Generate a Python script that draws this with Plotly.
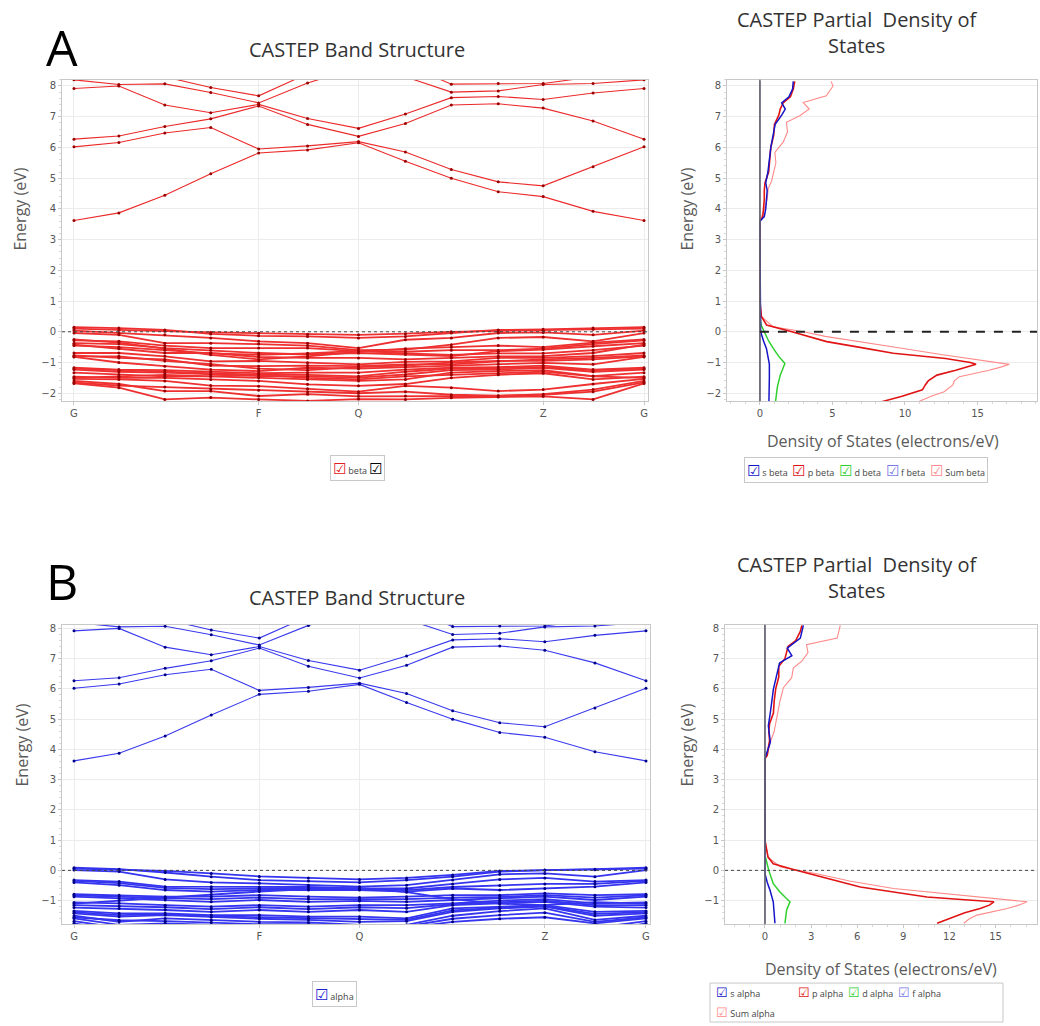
import plotly.graph_objects as go

# ---------------- data ----------------
k_path = [0.0, 0.45, 0.91, 1.37, 1.85, 2.34, 2.85, 3.32, 3.78, 4.25, 4.70, 5.20, 5.71]
k_tick_idx = [0, 4, 6, 10, 12]
k_tick_labels = ["G", "F", "Q", "Z", "G"]

conduction_bands = [
    [3.62, 3.87, 4.44, 5.14, 5.82, 5.92, 6.15, 5.55, 5.00, 4.56, 4.40, 3.92, 3.62],
    [6.02, 6.16, 6.47, 6.65, 5.95, 6.05, 6.19, 5.85, 5.28, 4.88, 4.75, 5.37, 6.02],
    [6.27, 6.37, 6.68, 6.93, 7.35, 6.75, 6.36, 6.78, 7.38, 7.42, 7.28, 6.86, 6.27],
    [7.92, 8.00, 7.38, 7.13, 7.40, 6.94, 6.62, 7.09, 7.62, 7.66, 7.56, 7.77, 7.92],
    [8.20, 8.05, 8.07, 7.79, 7.45, 8.10, 8.60, 8.30, 7.80, 7.84, 8.05, 8.08, 8.20],
    [8.60, 8.40, 8.30, 7.95, 7.68, 8.40, 8.80, 8.70, 8.06, 8.08, 8.08, 8.30, 8.60],
]

beta_valence_bands = [
    [0.15, 0.12, 0.06, -0.07, -0.13, -0.15, -0.20, -0.15, -0.04, 0.06, 0.08, 0.12, 0.15],
    [0.10, 0.05, 0.02, -0.02, -0.05, -0.08, -0.10, -0.06, 0.00, 0.03, 0.05, 0.08, 0.10],
    [0.04, -0.04, -0.10, -0.20, -0.31, -0.37, -0.53, -0.26, -0.20, -0.04, -0.02, -0.10, 0.04],
    [-0.04, -0.10, -0.37, -0.37, -0.40, -0.45, -0.60, -0.58, -0.42, -0.20, -0.17, -0.31, -0.04],
    [-0.25, -0.35, -0.55, -0.75, -0.90, -0.80, -0.65, -0.55, -0.50, -0.45, -0.50, -0.35, -0.25],
    [-0.28, -0.31, -0.45, -0.53, -0.53, -0.53, -0.63, -0.65, -0.60, -0.60, -0.55, -0.40, -0.28],
    [-0.37, -0.40, -0.53, -0.60, -0.69, -0.74, -0.69, -0.74, -0.79, -0.63, -0.58, -0.47, -0.37],
    [-0.42, -0.55, -0.69, -0.69, -0.82, -0.85, -0.85, -0.90, -0.85, -0.80, -0.79, -0.69, -0.42],
    [-0.45, -0.50, -0.60, -0.70, -0.75, -0.70, -0.62, -0.70, -0.75, -0.70, -0.70, -0.60, -0.45],
    [-0.69, -0.69, -0.80, -0.96, -0.95, -1.01, -1.06, -0.98, -0.96, -0.85, -0.85, -0.79, -0.69],
    [-0.77, -0.85, -0.90, -1.10, -1.12, -1.10, -1.12, -1.06, -1.06, -0.96, -0.90, -0.85, -0.77],
    [-0.80, -0.80, -0.95, -1.05, -1.20, -1.25, -1.15, -1.10, -1.00, -0.95, -0.95, -0.90, -0.80],
    [-0.82, -1.00, -1.12, -1.23, -1.28, -1.17, -1.20, -1.15, -1.12, -1.06, -1.01, -1.06, -0.82],
    [-1.17, -1.23, -1.25, -1.30, -1.35, -1.33, -1.33, -1.23, -1.17, -1.15, -1.10, -1.23, -1.17],
    [-1.20, -1.25, -1.30, -1.35, -1.40, -1.40, -1.45, -1.30, -1.20, -1.18, -1.15, -1.25, -1.20],
    [-1.23, -1.30, -1.33, -1.39, -1.44, -1.45, -1.49, -1.39, -1.25, -1.23, -1.17, -1.30, -1.23],
    [-1.33, -1.39, -1.45, -1.45, -1.50, -1.55, -1.60, -1.55, -1.33, -1.28, -1.25, -1.44, -1.33],
    [-1.50, -1.45, -1.40, -1.45, -1.40, -1.50, -1.55, -1.45, -1.40, -1.35, -1.30, -1.45, -1.50],
    [-1.46, -1.50, -1.50, -1.55, -1.60, -1.71, -1.76, -1.70, -1.50, -1.40, -1.35, -1.55, -1.46],
    [-1.53, -1.55, -1.60, -1.75, -1.77, -1.85, -1.95, -1.76, -1.82, -1.93, -1.88, -1.70, -1.53],
    [-1.60, -1.70, -1.93, -1.93, -2.09, -2.03, -2.10, -2.09, -2.09, -2.09, -2.03, -1.88, -1.60],
    [-1.65, -1.75, -1.80, -1.85, -1.90, -1.95, -2.00, -1.95, -2.05, -2.08, -2.05, -1.95, -1.65],
    [-1.68, -1.82, -2.20, -2.14, -2.20, -2.25, -2.19, -2.20, -2.15, -2.12, -2.10, -2.20, -1.68],
    [-2.40, -2.35, -2.30, -2.40, -2.30, -2.35, -2.40, -2.35, -2.30, -2.30, -2.30, -2.40, -2.50],
]

alpha_valence_bands = [
    [0.09, 0.04, -0.07, -0.21, -0.32, -0.35, -0.40, -0.32, -0.21, -0.04, 0.01, 0.04, 0.09],
    [0.06, 0.02, -0.02, -0.10, -0.20, -0.25, -0.30, -0.25, -0.15, -0.02, 0.00, 0.02, 0.06],
    [0.01, -0.04, -0.30, -0.40, -0.43, -0.49, -0.54, -0.49, -0.32, -0.13, -0.10, -0.21, 0.01],
    [-0.32, -0.37, -0.54, -0.54, -0.55, -0.55, -0.60, -0.60, -0.45, -0.30, -0.25, -0.37, -0.32],
    [-0.35, -0.42, -0.58, -0.62, -0.60, -0.58, -0.62, -0.65, -0.55, -0.50, -0.45, -0.45, -0.35],
    [-0.40, -0.49, -0.65, -0.70, -0.65, -0.65, -0.65, -0.70, -0.60, -0.65, -0.60, -0.54, -0.40],
    [-1.10, -1.00, -0.90, -0.80, -0.70, -0.62, -0.58, -0.72, -0.95, -1.10, -1.15, -1.05, -1.10],
    [-0.79, -0.82, -0.87, -0.87, -0.82, -0.87, -0.90, -0.87, -0.82, -0.82, -0.76, -0.82, -0.79],
    [-0.83, -0.88, -0.92, -0.95, -0.90, -0.95, -0.95, -0.95, -0.90, -0.88, -0.82, -0.90, -0.83],
    [-0.87, -0.93, -0.98, -1.04, -0.98, -1.04, -1.01, -1.04, -0.98, -0.93, -0.87, -0.98, -0.87],
    [-1.06, -1.09, -1.15, -1.20, -1.15, -1.20, -1.15, -1.15, -1.09, -1.00, -0.95, -1.09, -1.06],
    [-1.15, -1.18, -1.22, -1.28, -1.22, -1.28, -1.22, -1.25, -1.12, -1.05, -1.00, -1.15, -1.15],
    [-1.23, -1.26, -1.31, -1.37, -1.31, -1.37, -1.31, -1.37, -1.15, -1.09, -1.04, -1.20, -1.23],
    [-1.34, -1.42, -1.42, -1.48, -1.48, -1.53, -1.53, -1.59, -1.26, -1.20, -1.15, -1.37, -1.34],
    [-1.38, -1.48, -1.45, -1.52, -1.55, -1.58, -1.62, -1.64, -1.32, -1.23, -1.18, -1.44, -1.38],
    [-1.42, -1.53, -1.48, -1.55, -1.60, -1.64, -1.70, -1.68, -1.37, -1.26, -1.20, -1.50, -1.42],
    [-1.50, -1.70, -1.59, -1.65, -1.70, -1.72, -1.80, -1.80, -1.50, -1.35, -1.26, -1.64, -1.50],
    [-1.55, -1.65, -1.68, -1.72, -1.78, -1.78, -1.85, -1.85, -1.60, -1.48, -1.40, -1.70, -1.55],
    [-1.59, -1.80, -1.75, -1.80, -1.85, -1.85, -1.90, -1.90, -1.70, -1.60, -1.55, -1.75, -1.59],
    [-1.68, -1.90, -1.90, -1.95, -2.00, -1.95, -2.00, -2.00, -1.90, -1.90, -1.85, -1.90, -1.68],
    [-1.75, -2.00, -2.10, -2.10, -2.10, -2.10, -2.10, -2.10, -2.10, -2.10, -2.00, -2.05, -1.75],
]

fermi_level = 0.0

# --- PDOS beta (panel A) ---
dos_beta_s_E = [8.15, 7.9, 7.65, 7.45, 7.25, 7.05, 6.75, 6.4, 6.0, 5.6, 5.2, 4.85, 4.6, 4.3, 4.0, 3.75, 3.6, 3.0, 1.0, 0.3, 0.0, -0.3, -0.55, -0.8, -1.05, -1.5, -2.0, -2.3]
dos_beta_s = [2.3, 2.25, 2.0, 1.5, 1.75, 1.5, 1.05, 0.9, 0.75, 0.65, 0.55, 0.4, 0.5, 0.45, 0.4, 0.3, 0.0, 0.0, 0.0, 0.0, 0.05, 0.25, 0.45, 0.55, 0.65, 0.65, 0.6, 0.62]
dos_beta_p_E = [8.15, 7.9, 7.65, 7.45, 7.25, 7.05, 6.75, 6.4, 6.0, 5.6, 5.2, 4.85, 4.6, 4.3, 4.0, 3.75, 3.6, 3.0, 1.0, 0.5, 0.22, 0.0, -0.15, -0.32, -0.5, -0.7, -0.87, -1.0, -1.06, -1.15, -1.25, -1.41, -1.6, -1.73, -1.89, -2.1, -2.3]
dos_beta_p = [2.4, 2.3, 2.1, 1.6, 1.4, 1.3, 1.0, 0.95, 0.75, 0.7, 0.6, 0.35, 0.3, 0.3, 0.25, 0.2, 0.0, 0.0, 0.0, 0.1, 0.46, 2.2, 3.3, 4.6, 6.8, 9.2, 12.8, 14.5, 14.9, 14.3, 13.5, 12.2, 11.6, 11.4, 11.2, 9.8, 8.2]
dos_beta_d_E = [0.5, 0.2, 0.0, -0.3, -0.54, -0.8, -1.03, -1.2, -1.41, -1.8, -2.3]
dos_beta_d = [0.0, 0.1, 0.3, 0.6, 0.92, 1.3, 1.72, 1.6, 1.4, 1.2, 1.07]
dos_beta_f_E = [8.15, 3.6, 0.5, -2.3]
dos_beta_f = [0.0, 0.0, 0.0, 0.0]
dos_beta_sum_E = [8.15, 8.0, 7.68, 7.46, 7.25, 7.03, 6.82, 6.5, 6.17, 5.84, 5.5, 5.19, 4.9, 4.66, 4.3, 3.9, 3.7, 3.6, 1.0, 0.5, 0.16, 0.0, -0.15, -0.32, -0.55, -0.75, -0.95, -1.06, -1.15, -1.25, -1.46, -1.6, -1.73, -1.95, -2.1, -2.3]
dos_beta_sum = [4.9, 5.04, 4.58, 2.98, 3.4, 2.75, 1.83, 1.9, 1.6, 1.03, 1.1, 0.92, 0.8, 0.57, 0.5, 0.23, 0.1, 0.0, 0.0, 0.1, 0.92, 3.0, 4.5, 6.9, 10.0, 12.6, 15.5, 17.2, 16.6, 15.8, 13.75, 13.4, 13.3, 12.7, 11.8, 10.8]

# --- PDOS alpha (panel B) ---
dos_alpha_s_E = [8.1, 7.68, 7.35, 7.1, 6.86, 6.31, 5.99, 5.22, 4.78, 4.24, 3.9, 3.7, 1.0, 0.3, -0.11, -0.4, -0.66, -1.04, -1.4, -1.75]
dos_alpha_s = [2.5, 2.3, 1.45, 1.75, 0.95, 0.7, 0.55, 0.35, 0.22, 0.35, 0.1, 0.0, 0.0, 0.0, 0.0, 0.15, 0.33, 0.54, 0.6, 0.65]
dos_alpha_p_E = [8.1, 7.9, 7.6, 7.4, 7.2, 7.0, 6.75, 6.4, 6.0, 5.6, 5.2, 4.85, 4.6, 4.3, 4.0, 3.8, 3.7, 3.0, 1.0, 0.44, 0.22, 0.03, -0.11, -0.3, -0.55, -0.75, -0.88, -0.97, -1.04, -1.15, -1.26, -1.4, -1.53, -1.65, -1.75]
dos_alpha_p = [2.4, 2.3, 2.0, 1.5, 1.4, 1.3, 0.9, 0.9, 0.7, 0.6, 0.55, 0.3, 0.25, 0.3, 0.2, 0.15, 0.0, 0.0, 0.0, 0.2, 0.54, 1.85, 2.93, 4.3, 6.2, 8.8, 10.54, 13.0, 14.9, 14.6, 14.0, 13.0, 12.3, 11.7, 11.2]
dos_alpha_d_E = [0.5, 0.33, 0.0, -0.44, -0.7, -0.88, -1.04, -1.31, -1.75]
dos_alpha_d = [0.0, 0.07, 0.25, 0.54, 0.95, 1.3, 1.63, 1.41, 1.3]
dos_alpha_f_E = [8.1, 3.7, 0.5, -1.75]
dos_alpha_f = [0.0, 0.0, 0.0, 0.0]
dos_alpha_sum_E = [8.1, 7.68, 7.46, 7.2, 6.92, 6.7, 6.37, 6.04, 5.6, 4.95, 4.6, 4.2, 3.9, 3.7, 1.0, 0.44, 0.11, -0.11, -0.35, -0.6, -0.88, -0.97, -1.04, -1.15, -1.26, -1.48, -1.6, -1.75]
dos_alpha_sum = [4.9, 4.7, 2.7, 2.8, 2.4, 1.85, 1.74, 1.2, 0.98, 0.76, 0.6, 0.33, 0.2, 0.0, 0.0, 0.2, 1.0, 3.37, 5.5, 8.37, 13.8, 16.0, 17.06, 16.5, 15.76, 13.8, 13.3, 12.94]

# ---------------- styling ----------------
W, H = 1040, 1026
def px(x):
    return x / W
def py(y):
    return 1 - y / H

C_S, C_P, C_D, C_F, C_SUM = "#1414c8", "#e01414", "#2ed02e", "#7a7ae6", "#ff8a8a"
GRID = "#ececec"
AX = "#c8c8c8"
TICKC = "#555555"
FONT = "Open Sans"

fig = go.Figure()

def add_bands(bands, xa, ya, line_c, dot_c, w):
    for b in bands:
        fig.add_trace(go.Scatter(
            x=k_path, y=b, mode="lines+markers", xaxis=xa, yaxis=ya,
            line=dict(color=line_c, width=w), marker=dict(color=dot_c, size=3),
            showlegend=False, hoverinfo="skip"))

add_bands(conduction_bands, "x", "y", "#ec2a2a", "#9a0000", 1.1)
add_bands(beta_valence_bands, "x", "y", "#ee3030", "#9a0000", 1.8)
add_bands(conduction_bands, "x3", "y3", "#3a3aee", "#00008a", 1.1)
add_bands(alpha_valence_bands, "x3", "y3", "#3535f0", "#00008a", 1.8)

def add_dos(xa, ya, series):
    for (E, d, c, w, name) in series:
        fig.add_trace(go.Scatter(x=d, y=E, mode="lines", xaxis=xa, yaxis=ya, name=name,
                                 line=dict(color=c, width=w), showlegend=False, hoverinfo="skip"))

add_dos("x2", "y2", [
    (dos_beta_sum_E, dos_beta_sum, C_SUM, 1.1, "Sum beta"),
    (dos_beta_d_E, dos_beta_d, C_D, 1.5, "d beta"),
    (dos_beta_f_E, dos_beta_f, C_F, 1.3, "f beta"),
    (dos_beta_p_E, dos_beta_p, C_P, 1.6, "p beta"),
    (dos_beta_s_E, dos_beta_s, C_S, 1.5, "s beta"),
])
add_dos("x4", "y4", [
    (dos_alpha_sum_E, dos_alpha_sum, C_SUM, 1.1, "Sum alpha"),
    (dos_alpha_d_E, dos_alpha_d, C_D, 1.5, "d alpha"),
    (dos_alpha_f_E, dos_alpha_f, C_F, 1.3, "f alpha"),
    (dos_alpha_p_E, dos_alpha_p, C_P, 1.6, "p alpha"),
    (dos_alpha_s_E, dos_alpha_s, C_S, 1.5, "s alpha"),
])

k_tickvals = [k_path[i] for i in k_tick_idx]
k_range = [-0.12, 5.75]
dosA_range = [-2.27, 19.1]
dosB_range = [-2.6, 17.7]
yA_range = [-2.26, 8.2]
yB_range = [-1.78, 8.12]

tickfont = dict(family="DejaVu Sans", size=10, color=TICKC)
common_axis = dict(showline=True, linecolor=AX, linewidth=1, mirror=True, zeroline=False,
                   tickfont=tickfont, ticks="outside", ticklen=3, tickcolor=AX)
yminor = dict(ticks="outside", ticklen=2, tickcolor="#d8d8d8", dtick=0.2, showgrid=False)

fig.update_layout(
    width=W, height=H, margin=dict(l=0, r=0, t=0, b=0),
    paper_bgcolor="white", plot_bgcolor="white", showlegend=False,
    font=dict(family=FONT, color="#333333"),
    xaxis=dict(domain=[px(62), px(648)], range=k_range, tickvals=k_tickvals, ticktext=k_tick_labels,
               showgrid=True, gridcolor=GRID, anchor="y", **common_axis),
    yaxis=dict(domain=[py(400), py(78)], range=yA_range, dtick=1, showgrid=True, gridcolor=GRID,
               anchor="x", minor=yminor, **common_axis),
    xaxis2=dict(domain=[px(727), px(1037)], range=dosA_range, dtick=5, tick0=0, showgrid=False,
                anchor="y2", minor=dict(ticks="outside", ticklen=2, tickcolor="#d8d8d8", dtick=1), **common_axis),
    yaxis2=dict(domain=[py(400), py(78)], range=yA_range, dtick=1, showgrid=True, gridcolor=GRID,
                anchor="x2", minor=yminor, **common_axis),
    xaxis3=dict(domain=[px(62), px(650)], range=k_range, tickvals=k_tickvals, ticktext=k_tick_labels,
                showgrid=True, gridcolor=GRID, anchor="y3", **common_axis),
    yaxis3=dict(domain=[py(924), py(624)], range=yB_range, dtick=1, showgrid=True, gridcolor=GRID,
                anchor="x3", minor=yminor, **common_axis),
    xaxis4=dict(domain=[px(725), px(1037)], range=dosB_range, dtick=3, tick0=0, showgrid=False,
                anchor="y4", minor=dict(ticks="outside", ticklen=2, tickcolor="#d8d8d8", dtick=1), **common_axis),
    yaxis4=dict(domain=[py(924), py(624)], range=yB_range, dtick=1, showgrid=True, gridcolor=GRID,
                anchor="x4", minor=yminor, **common_axis),
)

shapes = []
# Fermi level lines in band structures
for xr, yr in (("x domain", "y"), ("x3 domain", "y3")):
    shapes.append(dict(type="line", xref=xr, yref=yr, x0=0, x1=1, y0=fermi_level, y1=fermi_level,
                       line=dict(color="#444444", width=1, dash="dot"), layer="above"))
# DOS zero axis lines (drawn above the curves, like the original)
for xr, yr in (("x2", "y2 domain"), ("x4", "y4 domain")):
    shapes.append(dict(type="line", xref=xr, yref=yr, x0=0, x1=0, y0=0, y1=1,
                       line=dict(color="#6a6a6a", width=1.6), layer="above"))
shapes.append(dict(type="line", xref="x2", yref="y2", x0=0, x1=dosA_range[1], y0=fermi_level, y1=fermi_level,
                   line=dict(color="#222222", width=2, dash="dash"), layer="above"))
shapes.append(dict(type="line", xref="x4 domain", yref="y4", x0=0, x1=1, y0=fermi_level, y1=fermi_level,
                   line=dict(color="#444444", width=1, dash="dot"), layer="above"))
# legend box of the alpha PDOS (two rows)
shapes.append(dict(type="rect", xref="paper", yref="paper", x0=px(710), x1=px(1003), y0=py(1022), y1=py(983),
                   line=dict(color="#c8c8c8", width=1), fillcolor="white"))
fig.update_layout(shapes=shapes)

ann = []
def text(x, y, t, size, color="#333333", family=FONT, angle=0, **kw):
    d = dict(x=px(x), y=py(y), xref="paper", yref="paper", text=t, showarrow=False,
             xanchor="center", yanchor="middle",
             font=dict(size=size, color=color, family=family), textangle=angle)
    d.update(kw)
    ann.append(d)

text(62, 45, "A", 50, color="#000000", family="Open Sans")
text(62, 580, "B", 50, color="#000000", family="Open Sans")
text(357, 48, "CASTEP Band Structure", 20)
text(357, 597, "CASTEP Band Structure", 20)
text(857, 31, "CASTEP Partial  Density of<br>States", 20)
text(857, 577, "CASTEP Partial  Density of<br>States", 20)
for (x, y) in ((20, 208), (687, 208), (22, 745), (687, 745)):
    text(x, y, "Energy (eV)", 16, color="#5a5a5a", angle=-90)
text(883, 440, "Density of States (electrons/eV)", 16, color="#5a5a5a")
text(881, 969, "Density of States (electrons/eV)", 16, color="#5a5a5a")

def cb(color, size=15):
    return '<span style="color:%s;font-size:%dpx">☑</span>' % (color, size)

legbox = dict(bordercolor="#c8c8c8", borderwidth=1, borderpad=2, bgcolor="white")
text(357, 467, cb("#e02020") + " beta " + cb("#000000"), 9, color="#444444", **legbox)
text(866, 469, cb(C_S) + " s beta  " + cb(C_P) + " p beta  " + cb(C_D) + " d beta  " + cb(C_F) +
     " f beta  " + cb(C_SUM) + " Sum beta", 9, color="#444444", **legbox)
text(334, 994, cb("#2020d0") + " alpha", 9, color="#444444", **legbox)
text(714, 992, cb(C_S, 13) + " s alpha" + "&nbsp;" * 16 + cb(C_P, 13) + " p alpha  " + cb(C_D, 13) +
     " d alpha  " + cb(C_F, 13) + " f alpha", 9, color="#444444", xanchor="left")
text(714, 1012, cb(C_SUM, 13) + " Sum alpha", 9, color="#444444", xanchor="left")
fig.update_layout(annotations=ann)

fig.write_html("out.html")
